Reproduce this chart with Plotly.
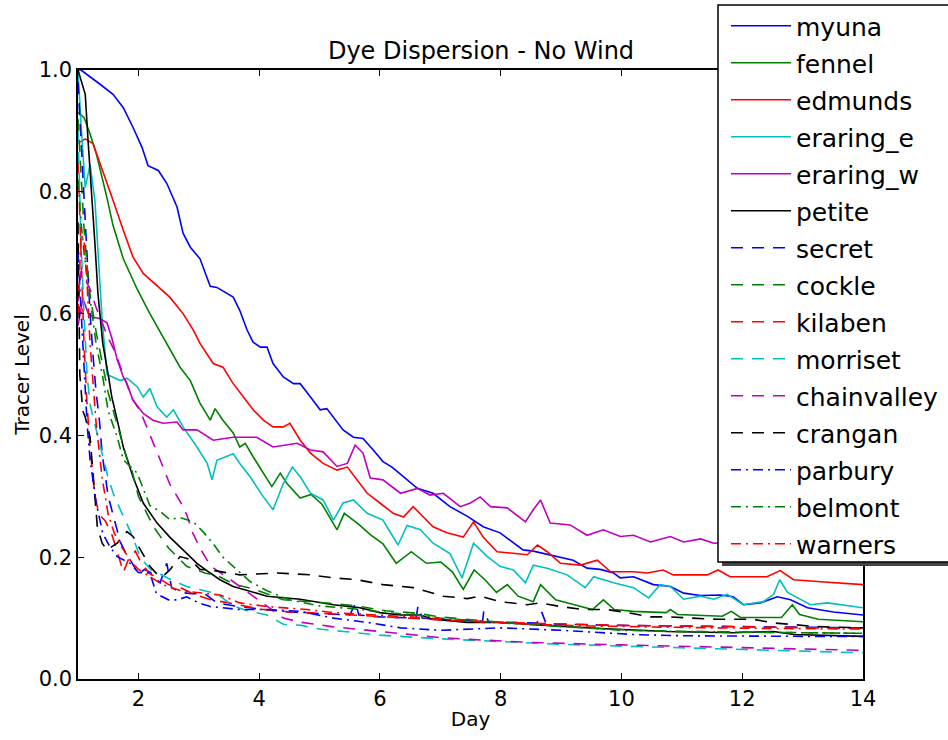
import plotly.graph_objects as go

# ---------------- data ----------------
myuna_day = [1.0, 1.05, 1.36, 1.58, 1.75, 1.91, 2.06, 2.16, 2.33, 2.47, 2.64, 2.74, 2.86, 3.02, 3.19, 3.3, 3.57, 3.68, 3.80, 3.90, 4.02, 4.13, 4.23, 4.40, 4.57, 4.68, 4.85, 5.01, 5.12, 5.23, 5.39, 5.56, 5.72, 5.89, 6.05, 6.20, 6.39, 6.62, 6.88, 7.16, 7.45, 7.71, 7.99, 8.21, 8.37, 8.54, 8.82, 9.20, 9.43, 9.65, 9.87, 9.98, 10.2, 10.53, 10.81, 11.03, 11.31, 11.64, 11.85, 12.02, 12.30, 12.58, 12.80, 13.08, 13.51, 14.0]
myuna = [1.0, 1.0, 0.977, 0.96, 0.938, 0.906, 0.873, 0.843, 0.835, 0.814, 0.775, 0.732, 0.709, 0.69, 0.645, 0.643, 0.627, 0.605, 0.573, 0.553, 0.545, 0.545, 0.518, 0.496, 0.485, 0.485, 0.463, 0.442, 0.444, 0.430, 0.409, 0.397, 0.395, 0.376, 0.357, 0.348, 0.332, 0.313, 0.305, 0.283, 0.267, 0.250, 0.240, 0.223, 0.212, 0.210, 0.204, 0.195, 0.182, 0.180, 0.174, 0.166, 0.168, 0.155, 0.152, 0.141, 0.137, 0.138, 0.135, 0.122, 0.125, 0.135, 0.130, 0.117, 0.110, 0.105]

fennel_day = [1.0, 1.1, 1.2, 1.31, 1.48, 1.58, 1.75, 1.98, 2.19, 2.36, 2.52, 2.69, 2.86, 3.02, 3.19, 3.27, 3.40, 3.57, 3.68, 3.77, 3.90, 4.07, 4.21, 4.35, 4.46, 4.68, 4.86, 5.04, 5.29, 5.41, 5.65, 5.84, 6.05, 6.27, 6.52, 6.77, 7.01, 7.2, 7.38, 7.56, 7.74, 7.93, 8.11, 8.29, 8.54, 8.66, 8.91, 9.22, 9.52, 9.70, 9.88, 10.2, 10.74, 10.81, 10.93, 11.67, 11.82, 11.97, 12.65, 12.83, 12.95, 13.26, 14.0]
fennel = [0.93, 0.922, 0.895, 0.86, 0.79, 0.745, 0.69, 0.64, 0.60, 0.57, 0.54, 0.512, 0.49, 0.453, 0.425, 0.444, 0.425, 0.404, 0.381, 0.387, 0.365, 0.338, 0.316, 0.338, 0.321, 0.297, 0.303, 0.287, 0.245, 0.272, 0.254, 0.237, 0.222, 0.19, 0.209, 0.19, 0.192, 0.176, 0.147, 0.179, 0.163, 0.142, 0.155, 0.136, 0.127, 0.155, 0.13, 0.122, 0.114, 0.13, 0.114, 0.111, 0.109, 0.114, 0.106, 0.103, 0.111, 0.101, 0.101, 0.122, 0.106, 0.098, 0.094]

edmunds_day = [1.0, 1.12, 1.25, 1.41, 1.58, 1.75, 1.91, 2.08, 2.31, 2.52, 2.74, 2.91, 3.02, 3.24, 3.40, 3.57, 3.74, 3.90, 4.07, 4.23, 4.40, 4.51, 4.68, 4.85, 5.06, 5.29, 5.46, 5.62, 5.79, 6.0, 6.22, 6.39, 6.55, 6.72, 6.88, 7.11, 7.38, 7.55, 7.71, 7.94, 8.16, 8.44, 8.61, 8.77, 8.99, 9.32, 9.6, 9.82, 10.2, 10.43, 10.69, 10.86, 11.42, 11.6, 11.8, 12.41, 12.63, 12.85, 13.24, 14.0]
edmunds = [0.88, 0.887, 0.879, 0.835, 0.786, 0.737, 0.693, 0.666, 0.646, 0.627, 0.60, 0.573, 0.551, 0.518, 0.512, 0.485, 0.463, 0.442, 0.425, 0.414, 0.414, 0.420, 0.392, 0.371, 0.354, 0.343, 0.348, 0.327, 0.305, 0.289, 0.272, 0.266, 0.283, 0.266, 0.25, 0.24, 0.233, 0.258, 0.233, 0.209, 0.207, 0.204, 0.22, 0.209, 0.19, 0.187, 0.195, 0.176, 0.176, 0.174, 0.179, 0.171, 0.171, 0.179, 0.168, 0.168, 0.178, 0.163, 0.16, 0.155]

eraring_e_day = [1.0, 1.05, 1.12, 1.2, 1.28, 1.33, 1.4, 1.48, 1.58, 1.7, 1.81, 1.98, 2.08, 2.19, 2.31, 2.47, 2.58, 2.74, 2.97, 3.14, 3.22, 3.3, 3.57, 3.68, 3.85, 4.07, 4.23, 4.40, 4.55, 4.68, 4.85, 5.06, 5.23, 5.39, 5.56, 5.79, 6.05, 6.3, 6.45, 6.67, 6.88, 7.16, 7.36, 7.55, 7.78, 7.99, 8.21, 8.41, 8.54, 8.77, 9.10, 9.40, 9.54, 9.87, 10.2, 10.45, 10.64, 10.81, 11.03, 11.31, 11.53, 11.75, 12.02, 12.35, 12.52, 12.62, 12.75, 12.96, 13.13, 13.41, 13.63, 13.84, 14.0]
eraring_e = [1.0, 0.91, 0.807, 0.845, 0.786, 0.70, 0.59, 0.50, 0.496, 0.49, 0.494, 0.48, 0.463, 0.477, 0.447, 0.430, 0.442, 0.414, 0.381, 0.354, 0.327, 0.359, 0.37, 0.354, 0.332, 0.299, 0.278, 0.321, 0.348, 0.332, 0.305, 0.294, 0.261, 0.289, 0.294, 0.272, 0.261, 0.22, 0.252, 0.245, 0.223, 0.206, 0.166, 0.223, 0.201, 0.185, 0.179, 0.158, 0.187, 0.182, 0.171, 0.15, 0.168, 0.158, 0.15, 0.133, 0.155, 0.152, 0.131, 0.136, 0.131, 0.139, 0.122, 0.127, 0.139, 0.163, 0.142, 0.131, 0.122, 0.125, 0.122, 0.119, 0.117]

eraring_w_day = [1.0, 1.08, 1.17, 1.25, 1.36, 1.48, 1.56, 1.65, 1.75, 1.81, 1.91, 2.08, 2.24, 2.41, 2.64, 2.74, 2.97, 3.24, 3.57, 3.96, 4.23, 4.46, 4.63, 4.85, 5.06, 5.29, 5.46, 5.59, 5.72, 5.84, 6.05, 6.34, 6.62, 6.83, 7.05, 7.33, 7.50, 7.66, 7.83, 8.11, 8.41, 8.54, 8.66, 8.82, 9.15, 9.43, 9.70, 9.98, 10.2, 10.48, 10.81, 11.03, 11.31, 11.53, 12.0, 12.5, 13.0, 13.5, 14.0]
eraring_w = [0.58, 0.625, 0.60, 0.594, 0.592, 0.585, 0.56, 0.524, 0.496, 0.485, 0.458, 0.436, 0.425, 0.42, 0.422, 0.409, 0.409, 0.392, 0.397, 0.397, 0.381, 0.384, 0.387, 0.376, 0.373, 0.349, 0.354, 0.384, 0.371, 0.33, 0.327, 0.305, 0.313, 0.302, 0.305, 0.283, 0.289, 0.299, 0.283, 0.281, 0.258, 0.278, 0.294, 0.256, 0.253, 0.236, 0.245, 0.234, 0.236, 0.225, 0.234, 0.225, 0.23, 0.223, 0.225, 0.22, 0.218, 0.215, 0.212]

petite_day = [1.0, 1.12, 1.17, 1.23, 1.28, 1.33, 1.41, 1.50, 1.56, 1.65, 1.75, 1.91, 2.08, 2.31, 2.52, 2.74, 2.97, 3.19, 3.35, 3.57, 3.85, 4.13, 4.68, 5.23, 5.67, 6.0, 6.34, 6.67, 6.88, 7.45, 7.99, 8.54, 9.10, 9.65, 10.2, 10.76, 11.85, 12.52, 12.85, 14.0]
petite = [1.0, 0.96, 0.879, 0.797, 0.715, 0.633, 0.551, 0.50, 0.463, 0.425, 0.381, 0.332, 0.289, 0.256, 0.233, 0.212, 0.19, 0.174, 0.163, 0.152, 0.144, 0.136, 0.131, 0.122, 0.117, 0.109, 0.105, 0.105, 0.098, 0.093, 0.093, 0.089, 0.086, 0.083, 0.081, 0.078, 0.076, 0.078, 0.073, 0.07]

secret_day = [1.0, 1.05, 1.1, 1.15, 1.2, 1.25, 1.3, 1.35, 1.4, 1.5, 1.6, 1.7, 1.8, 1.9, 2.0, 2.1, 2.2, 2.36, 2.47, 2.55, 2.7, 2.9, 3.1, 3.3, 3.6, 4.0, 4.5, 5.0, 5.5, 5.6, 5.65, 6.0, 6.6, 6.63, 6.7, 7.0, 7.7, 7.72, 7.8, 8.6, 8.68, 8.75, 9.0, 10.0, 11.0, 12.0, 13.0, 14.0]
secret = [0.98, 0.88, 0.78, 0.68, 0.60, 0.53, 0.47, 0.43, 0.37, 0.30, 0.26, 0.225, 0.205, 0.19, 0.172, 0.18, 0.175, 0.158, 0.19, 0.15, 0.142, 0.14, 0.14, 0.125, 0.12, 0.115, 0.11, 0.108, 0.105, 0.125, 0.105, 0.102, 0.1, 0.12, 0.1, 0.098, 0.095, 0.112, 0.094, 0.092, 0.11, 0.091, 0.09, 0.088, 0.087, 0.086, 0.085, 0.084]

cockle_day = [1.0, 1.05, 1.1, 1.15, 1.2, 1.3, 1.4, 1.5, 1.6, 1.7, 1.8, 1.9, 2.0, 2.1, 2.25, 2.5, 2.8, 3.1, 3.3, 3.6, 3.9, 4.4, 5.1, 5.6, 6.1, 6.6, 7.0, 8.0, 9.0, 10.2, 11.0, 12.0, 13.0, 14.0]
cockle = [0.92, 0.82, 0.74, 0.68, 0.63, 0.57, 0.52, 0.47, 0.435, 0.40, 0.365, 0.34, 0.30, 0.28, 0.25, 0.215, 0.185, 0.174, 0.17, 0.155, 0.148, 0.13, 0.125, 0.12, 0.112, 0.108, 0.102, 0.093, 0.086, 0.08, 0.078, 0.077, 0.076, 0.075]

kilaben_day = [1.0, 1.05, 1.1, 1.15, 1.2, 1.28, 1.35, 1.45, 1.55, 1.65, 1.75, 1.85, 1.95, 2.05, 2.2, 2.35, 2.5, 2.7, 2.9, 3.2, 3.5, 4.0, 4.5, 5.0, 6.0, 7.0, 8.0, 9.0, 10.0, 11.0, 12.0, 13.0, 14.0]
kilaben = [0.85, 0.70, 0.55, 0.45, 0.38, 0.30, 0.27, 0.26, 0.24, 0.21, 0.175, 0.20, 0.21, 0.19, 0.172, 0.165, 0.155, 0.15, 0.14, 0.13, 0.125, 0.115, 0.11, 0.108, 0.102, 0.097, 0.093, 0.09, 0.088, 0.087, 0.086, 0.084, 0.083]

morriset_day = [1.0, 1.05, 1.1, 1.15, 1.2, 1.3, 1.4, 1.5, 1.6, 1.75, 1.9, 2.03, 2.2, 2.5, 2.8, 3.0, 3.3, 3.57, 3.8, 4.13, 4.4, 4.7, 5.0, 5.4, 6.0, 7.0, 8.0, 9.0, 10.0, 11.0, 12.0, 13.0, 14.0]
morriset = [0.90, 0.72, 0.60, 0.50, 0.45, 0.41, 0.37, 0.33, 0.30, 0.266, 0.235, 0.20, 0.18, 0.165, 0.152, 0.147, 0.14, 0.12, 0.112, 0.105, 0.09, 0.088, 0.082, 0.078, 0.072, 0.066, 0.061, 0.057, 0.054, 0.051, 0.048, 0.046, 0.043]

chainvalley_day = [1.0, 1.05, 1.1, 1.2, 1.3, 1.4, 1.5, 1.6, 1.75, 1.9, 2.03, 2.2, 2.36, 2.52, 2.7, 2.8, 2.9, 3.02, 3.2, 3.5, 3.85, 4.13, 4.4, 4.7, 5.2, 5.7, 6.3, 7.0, 7.5, 8.5, 10.0, 11.8, 14.0]
chainvalley = [0.62, 0.67, 0.66, 0.64, 0.61, 0.585, 0.56, 0.54, 0.50, 0.46, 0.44, 0.40, 0.36, 0.32, 0.29, 0.27, 0.24, 0.215, 0.185, 0.165, 0.14, 0.12, 0.10, 0.093, 0.086, 0.081, 0.075, 0.068, 0.065, 0.06, 0.056, 0.052, 0.047]

crangan_day = [1.0, 1.03, 1.08, 1.12, 1.2, 1.25, 1.28, 1.32, 1.4, 1.48, 1.65, 1.81, 1.91, 2.03, 2.19, 2.31, 2.4, 2.52, 2.69, 2.86, 3.02, 3.19, 3.68, 4.3, 4.85, 5.23, 5.62, 6.05, 6.55, 7.05, 7.45, 7.66, 7.99, 8.44, 8.66, 8.99, 9.37, 9.76, 10.1, 10.48, 10.76, 11.59, 12.19, 12.52, 13.24, 14.0]
crangan = [0.75, 0.50, 0.44, 0.43, 0.397, 0.33, 0.289, 0.25, 0.223, 0.212, 0.223, 0.242, 0.234, 0.212, 0.185, 0.172, 0.168, 0.179, 0.201, 0.196, 0.18, 0.179, 0.171, 0.174, 0.171, 0.166, 0.163, 0.155, 0.15, 0.136, 0.132, 0.136, 0.127, 0.122, 0.125, 0.119, 0.114, 0.114, 0.109, 0.102, 0.102, 0.098, 0.098, 0.092, 0.086, 0.084]

parbury_day = [1.0, 1.05, 1.1, 1.15, 1.2, 1.3, 1.41, 1.53, 1.65, 1.86, 2.0, 2.19, 2.3, 2.5, 2.65, 2.8, 3.0, 3.19, 3.68, 4.13, 4.68, 5.23, 5.79, 6.34, 7.0, 7.99, 9.0, 10.2, 11.0, 12.0, 13.0, 14.0]
parbury = [0.70, 0.60, 0.50, 0.42, 0.36, 0.29, 0.239, 0.217, 0.201, 0.19, 0.175, 0.174, 0.14, 0.13, 0.13, 0.135, 0.125, 0.119, 0.114, 0.114, 0.111, 0.10, 0.093, 0.084, 0.08, 0.084, 0.08, 0.073, 0.071, 0.07, 0.07, 0.07]

belmont_day = [1.0, 1.05, 1.1, 1.15, 1.2, 1.3, 1.41, 1.5, 1.65, 1.75, 1.98, 2.19, 2.36, 2.52, 2.69, 2.91, 3.07, 3.24, 3.4, 3.57, 3.85, 4.13, 4.5, 5.0, 5.6, 6.0, 6.6, 7.0, 8.0, 9.0, 10.0, 11.0, 12.0, 13.0, 14.0]
belmont = [0.82, 0.75, 0.70, 0.66, 0.62, 0.55, 0.496, 0.44, 0.397, 0.36, 0.338, 0.285, 0.275, 0.262, 0.265, 0.258, 0.242, 0.222, 0.20, 0.185, 0.16, 0.145, 0.13, 0.12, 0.115, 0.11, 0.105, 0.10, 0.092, 0.087, 0.08, 0.078, 0.077, 0.076, 0.075]

warners_day = [1.0, 1.05, 1.1, 1.15, 1.2, 1.3, 1.4, 1.5, 1.6, 1.7, 1.8, 1.9, 2.0, 2.2, 2.4, 2.7, 3.02, 3.35, 3.68, 4.13, 4.79, 5.23, 5.95, 6.5, 7.5, 8.5, 9.5, 10.5, 11.5, 12.5, 14.0]
warners = [0.60, 0.73, 0.72, 0.65, 0.55, 0.42, 0.33, 0.27, 0.24, 0.22, 0.205, 0.19, 0.18, 0.168, 0.155, 0.145, 0.141, 0.138, 0.125, 0.119, 0.114, 0.109, 0.105, 0.102, 0.095, 0.09, 0.087, 0.085, 0.084, 0.083, 0.082]

x_ticks = [2, 4, 6, 8, 10, 12, 14]
y_ticks = [0.0, 0.2, 0.4, 0.6, 0.8, 1.0]
y_tick_labels = ["0.0", "0.2", "0.4", "0.6", "0.8", "1.0"]

# ---------------- styling ----------------
BLUE, GREEN, RED, CYAN, MAG, BLACK = "#0000ff", "#008000", "#ff0000", "#00bfbf", "#bf00bf", "#000000"
DASH = "12px,9px"
DASHDOT = "10px,5px,2px,5px"

series = [
    ("myuna", myuna_day, myuna, BLUE, "solid"),
    ("fennel", fennel_day, fennel, GREEN, "solid"),
    ("edmunds", edmunds_day, edmunds, RED, "solid"),
    ("eraring_e", eraring_e_day, eraring_e, CYAN, "solid"),
    ("eraring_w", eraring_w_day, eraring_w, MAG, "solid"),
    ("petite", petite_day, petite, BLACK, "solid"),
    ("secret", secret_day, secret, BLUE, DASH),
    ("cockle", cockle_day, cockle, GREEN, DASH),
    ("kilaben", kilaben_day, kilaben, RED, DASH),
    ("morriset", morriset_day, morriset, CYAN, DASH),
    ("chainvalley", chainvalley_day, chainvalley, MAG, DASH),
    ("crangan", crangan_day, crangan, BLACK, DASH),
    ("parbury", parbury_day, parbury, BLUE, DASHDOT),
    ("belmont", belmont_day, belmont, GREEN, DASHDOT),
    ("warners", warners_day, warners, RED, DASHDOT),
]

FONT = "DejaVu Sans"
W, H = 948, 740
ML, MR, MT, MB = 78, 85, 70, 61
PW, PH = W - ML - MR, H - MT - MB


def px_x(px):
    return (px - ML) / PW


def px_y(py):
    return (H - MB - py) / PH


fig = go.Figure()
for i, (name, d, v, col, dash) in enumerate(series):
    fig.add_trace(go.Scatter(
        x=d, y=v, mode="lines", name=name, legendgroup=f"g{i}",
        line=dict(color=col, width=1.6, dash=dash),
    ))

axis_common = dict(
    showline=True, linecolor="black", linewidth=1.5, mirror="allticks",
    ticks="inside", ticklen=6, tickwidth=1, tickcolor="black",
    showgrid=False, zeroline=False,
    tickfont=dict(family=FONT, size=21, color="black"),
)

# legend frame (box + drop shadow) drawn as shapes, legend entries on top
box_l, box_t, box_r, box_b = 718, 5, 975, 562
frame = [
    dict(type="rect", xref="paper", yref="paper",
         x0=px_x(box_l + 4), x1=px_x(box_r + 4), y0=px_y(box_b + 4), y1=px_y(box_t + 4),
         fillcolor="#444444", line=dict(width=0), layer="above"),
    dict(type="rect", xref="paper", yref="paper",
         x0=px_x(box_l), x1=px_x(box_r), y0=px_y(box_b), y1=px_y(box_t),
         fillcolor="white", line=dict(color="black", width=1.5), layer="above"),
]

fig.update_layout(
    width=W, height=H,
    margin=dict(l=ML, r=MR, t=MT, b=MB, autoexpand=False),
    paper_bgcolor="white", plot_bgcolor="white",
    font=dict(family=FONT, color="black"),
    title=dict(text="Dye Dispersion - No Wind", x=481 / W, xanchor="center",
               y=1 - 51 / H, yanchor="middle", font=dict(size=24, family=FONT, color="black")),
    xaxis=dict(range=[1, 14], tickvals=x_ticks,
               title=dict(text="Day", font=dict(size=20, family=FONT), standoff=2), **axis_common),
    yaxis=dict(range=[0, 1], tickvals=y_ticks, ticktext=y_tick_labels,
               title=dict(text="Tracer Level", font=dict(size=20, family=FONT), standoff=4), **axis_common),
    legend=dict(x=px_x(726), y=px_y(3), xanchor="left", yanchor="top",
                bgcolor="rgba(0,0,0,0)", borderwidth=0,
                font=dict(size=25, family=FONT, color="black"),
                itemwidth=60, tracegroupgap=1.5, traceorder="grouped", maxheight=720),
    shapes=frame,
)

fig.write_html("out.html")
